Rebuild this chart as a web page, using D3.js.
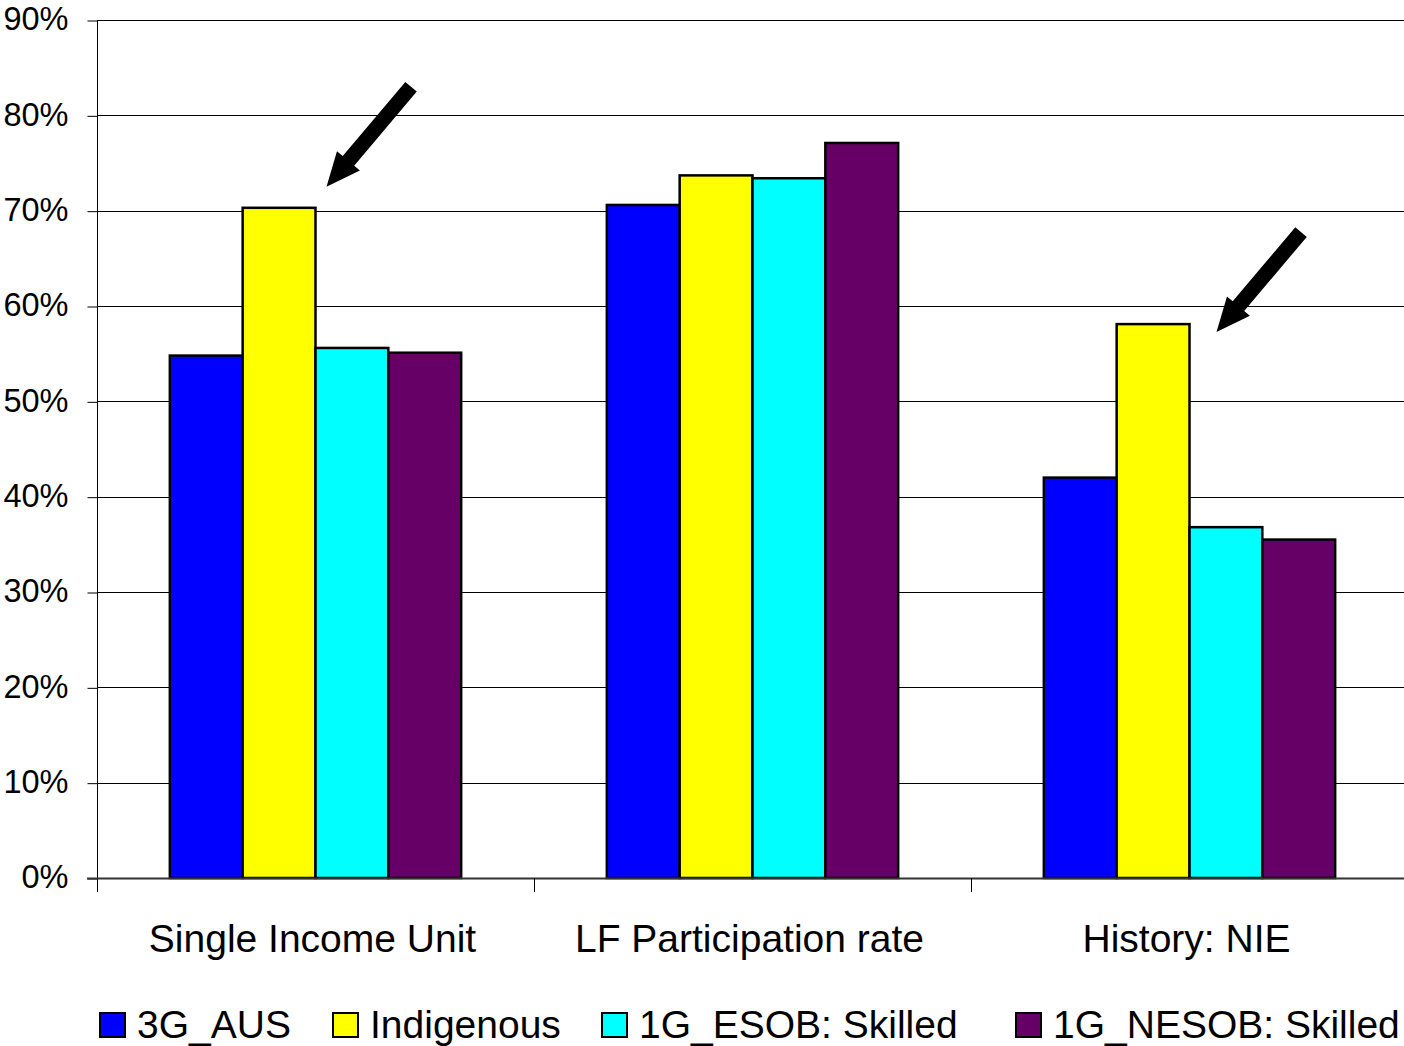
<!DOCTYPE html>
<html>
<head>
<meta charset="utf-8">
<script src="https://cdn.jsdelivr.net/npm/d3@7/dist/d3.min.js"></script>
<style>
  html, body { margin: 0; padding: 0; background: #fff; }
  svg { display: block; }
  text { font-family: "Liberation Sans", Arial, sans-serif; fill: #000; }
</style>
</head>
<body>
<svg id="chart" width="1404" height="1046"></svg>
<script>
// ---- data ----
const categories = ["Single Income Unit", "LF Participation rate", "History: NIE"];
const seriesNames = ["3G_AUS", "Indigenous", "1G_ESOB: Skilled", "1G_NESOB: Skilled"];
const seriesColors = ["#0000FF", "#FFFF00", "#00FFFF", "#660066"];
const values3G_AUS = [54.8, 70.6, 42.0];
const valuesIndigenous = [70.3, 73.7, 58.1];
const valuesESOB = [55.6, 73.4, 36.8];
const valuesNESOB = [55.1, 77.1, 35.5];
const yTicks = [0, 10, 20, 30, 40, 50, 60, 70, 80, 90];
const yTickLabels = ["0%", "10%", "20%", "30%", "40%", "50%", "60%", "70%", "80%", "90%"];
// arrows point at the Indigenous bars
const arrowTargets = [
  { category: "Single Income Unit", series: "Indigenous" },
  { category: "History: NIE", series: "Indigenous" }
];

const seriesValues = [values3G_AUS, valuesIndigenous, valuesESOB, valuesNESOB];

// ---- layout ----
const svg = d3.select("#chart");
const mLeft = 97, mRight = 1408, mTop = 20, mBottom = 878;

const x = d3.scaleBand().domain(categories).range([mLeft, mRight]).padding(0);
const bandW = x.bandwidth();
const xs = d3.scaleBand().domain(seriesNames).range([bandW / 6, bandW * 5 / 6]).padding(0);
const y = d3.scaleLinear().domain([0, 90]).range([mBottom, mTop]);
const color = d3.scaleOrdinal().domain(seriesNames).range(seriesColors);

// gridlines
svg.append("g")
  .selectAll("line")
  .data(yTicks.filter(d => d > 0))
  .join("line")
  .attr("x1", mLeft).attr("x2", mRight)
  .attr("y1", d => Math.round(y(d)) + 0.5).attr("y2", d => Math.round(y(d)) + 0.5)
  .attr("stroke", "#000").attr("stroke-width", 1);

// y axis
const yAxis = d3.axisLeft(y)
  .tickValues(yTicks)
  .tickFormat((d, i) => yTickLabels[i])
  .tickSize(10)
  .tickPadding(19);
const yg = svg.append("g").attr("transform", `translate(${mLeft + 0.5},0)`).call(yAxis);
yg.select(".domain").remove();
yg.selectAll(".tick line").attr("stroke", "#000").attr("stroke-width", 1)
  .attr("transform", "translate(0,0.5)");
yg.selectAll(".tick text")
  .attr("font-size", 32.5)
  .attr("font-family", "Liberation Sans, Arial, sans-serif")
  .attr("dy", "0.3em");
svg.append("line")
  .attr("x1", mLeft + 0.5).attr("x2", mLeft + 0.5)
  .attr("y1", mTop).attr("y2", mBottom + 14)
  .attr("stroke", "#000").attr("stroke-width", 1);

// bars
const groups = svg.append("g")
  .selectAll("g")
  .data(categories)
  .join("g")
  .attr("transform", d => `translate(${x(d)},0)`);

groups.selectAll("rect")
  .data((c, ci) => seriesNames.map((s, si) => ({ series: s, value: seriesValues[si][ci] })))
  .join("rect")
  .attr("x", d => xs(d.series))
  .attr("width", xs.bandwidth())
  .attr("y", d => y(d.value))
  .attr("height", d => mBottom - y(d.value))
  .attr("fill", d => color(d.series))
  .attr("stroke", "#000")
  .attr("stroke-width", 2.5);

// x axis baseline and boundary ticks
svg.append("line")
  .attr("x1", mLeft - 10).attr("x2", mRight)
  .attr("y1", mBottom + 0.5).attr("y2", mBottom + 0.5)
  .attr("stroke", "#333").attr("stroke-width", 2);
svg.append("g")
  .selectAll("line")
  .data(categories.slice(1))
  .join("line")
  .attr("x1", d => Math.round(x(d)) + 0.5).attr("x2", d => Math.round(x(d)) + 0.5)
  .attr("y1", mBottom).attr("y2", mBottom + 14)
  .attr("stroke", "#000").attr("stroke-width", 1);

// category labels
const xAxis = d3.axisBottom(x).tickSize(0).tickPadding(0);
const xg = svg.append("g").attr("transform", `translate(0,${mBottom})`).call(xAxis);
xg.select(".domain").remove();
xg.selectAll(".tick text")
  .attr("font-size", 39)
  .attr("font-family", "Liberation Sans, Arial, sans-serif")
  .attr("x", -3)
  .attr("y", 74).attr("dy", 0);

// arrows
const arrowOffsets = [[11, -21], [27, 8]];
const arrowLen = 131, shaftW = 15, headW = 30, headL = 34;
const ang = Math.atan2(-100, 84.5); // direction from tip toward tail
arrowTargets.forEach((a, i) => {
  const si = seriesNames.indexOf(a.series);
  const ci = categories.indexOf(a.category);
  const tipX = x(a.category) + xs(a.series) + xs.bandwidth() + arrowOffsets[i][0];
  const tipY = y(seriesValues[si][ci]) + arrowOffsets[i][1];
  const pts = [
    [0, 0], [headL, -headW / 2], [headL, -shaftW / 2], [arrowLen, -shaftW / 2],
    [arrowLen, shaftW / 2], [headL, shaftW / 2], [headL, headW / 2]
  ];
  svg.append("polygon")
    .attr("points", pts.map(p => p.join(",")).join(" "))
    .attr("transform", `translate(${tipX},${tipY}) rotate(${ang * 180 / Math.PI})`)
    .attr("fill", "#000");
});

// legend
const legend = svg.append("g");
const legY = 1038;
const legendX = [100, 333, 602, 1016];
seriesNames.forEach((s, i) => {
  const lx = legendX[i];
  const g = legend.append("g");
  g.append("rect")
    .attr("x", lx).attr("y", legY - 25)
    .attr("width", 25).attr("height", 24)
    .attr("fill", color(s)).attr("stroke", "#000").attr("stroke-width", 2);
  g.append("text")
    .attr("x", lx + 37).attr("y", legY)
    .attr("font-size", 39)
    .text(s);
});
</script>
</body>
</html>
